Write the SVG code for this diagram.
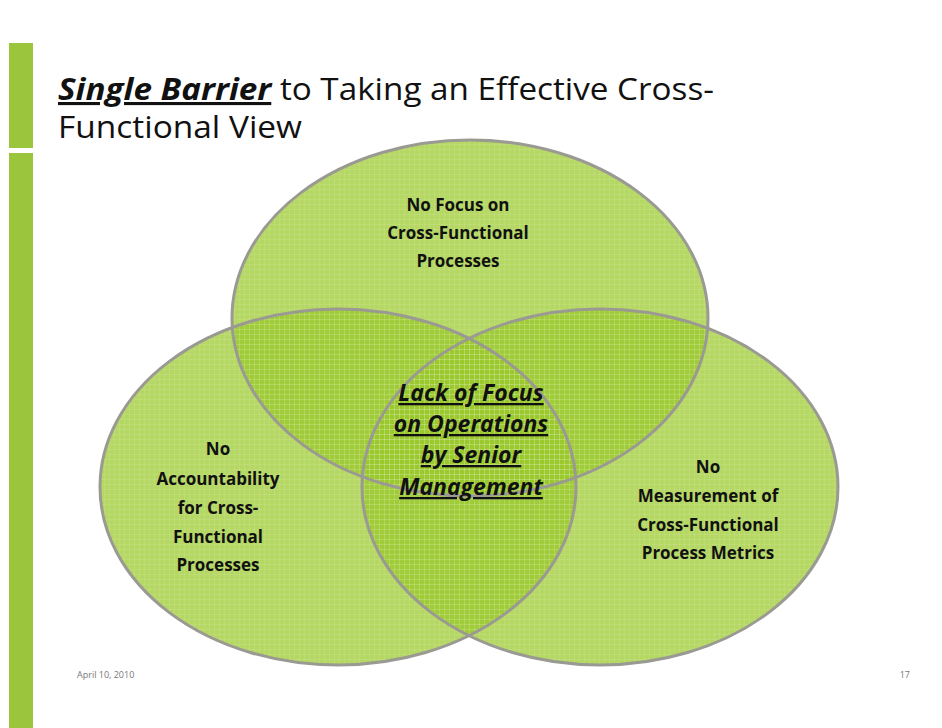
<svg xmlns="http://www.w3.org/2000/svg" width="942" height="728" viewBox="0 0 942 728">
<defs>
<pattern id="grid" width="5" height="5" patternUnits="userSpaceOnUse">
<path d="M5 0V5H0" fill="none" stroke="#ffffff" stroke-opacity="0.18" stroke-width="1"/>
</pattern>
<style>
.c{fill:#98c828;fill-opacity:0.72}
.g{fill:url(#grid)}
.o{fill:none;stroke:#9a9a93;stroke-width:3}
.t{font-family:"Open Sans","Liberation Sans",sans-serif;font-weight:bold;font-size:17px;fill:#111;text-anchor:middle}
.m{font-family:"Open Sans","Liberation Sans",sans-serif;font-weight:bold;font-style:italic;font-size:23px;fill:#111;text-anchor:middle;text-decoration:underline}
</style>
</defs>
<rect width="942" height="728" fill="#fff"/>
<rect x="9" y="43" width="24" height="105" fill="#9ac53c"/>
<rect x="9" y="153" width="24" height="575" fill="#9ac53c"/>
<text x="58" y="100" font-family="Open Sans,Liberation Sans,sans-serif" font-size="31" fill="#111" textLength="656" lengthAdjust="spacingAndGlyphs"><tspan font-weight="bold" font-style="italic" text-decoration="underline">Single Barrier</tspan> to Taking an Effective Cross-</text>
<text x="58" y="138" font-family="Open Sans,Liberation Sans,sans-serif" font-size="31" fill="#111" textLength="244" lengthAdjust="spacingAndGlyphs">Functional View</text>
<g id="top"><ellipse class="c" cx="470" cy="318" rx="238" ry="178"/></g>
<g id="left"><ellipse class="c" cx="338" cy="487" rx="238" ry="178"/></g>
<g id="right"><ellipse class="c" cx="600" cy="487" rx="238" ry="178"/></g>
<g id="outlines">
<ellipse class="g" cx="470" cy="318" rx="238" ry="178"/>
<ellipse class="g" cx="338" cy="487" rx="238" ry="178"/>
<ellipse class="g" cx="600" cy="487" rx="238" ry="178"/>
<ellipse class="o" cx="470" cy="318" rx="238" ry="178"/>
<ellipse class="o" cx="338" cy="487" rx="238" ry="178"/>
<ellipse class="o" cx="600" cy="487" rx="238" ry="178"/>
</g>
<g id="labels">
<text class="t" x="458" y="211">No Focus on</text>
<text class="t" x="458" y="239">Cross-Functional</text>
<text class="t" x="458" y="267">Processes</text>
<text class="t" x="218" y="455">No</text>
<text class="t" x="218" y="485">Accountability</text>
<text class="t" x="218" y="514">for Cross-</text>
<text class="t" x="218" y="543">Functional</text>
<text class="t" x="218" y="571">Processes</text>
<text class="t" x="708" y="473">No</text>
<text class="t" x="708" y="502">Measurement of</text>
<text class="t" x="708" y="531">Cross-Functional</text>
<text class="t" x="708" y="559">Process Metrics</text>
<text class="m" x="471" y="401">Lack of Focus</text>
<text class="m" x="471" y="432">on Operations</text>
<text class="m" x="471" y="463">by Senior</text>
<text class="m" x="471" y="495">Management</text>
</g>
<text x="77" y="678" font-family="Open Sans,Liberation Sans,sans-serif" font-size="9" fill="#777">April 10, 2010</text>
<text x="910" y="678" font-family="Open Sans,Liberation Sans,sans-serif" font-size="9" fill="#777" text-anchor="end">17</text>
</svg>
